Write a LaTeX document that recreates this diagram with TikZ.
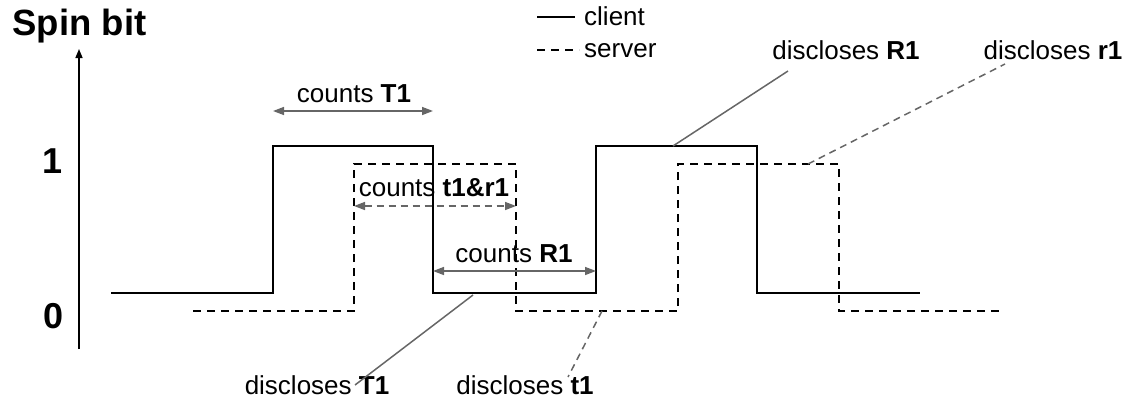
\documentclass[tikz,border=0pt]{standalone}
\usepackage{fontspec}
\setmainfont{Liberation Sans}
\usetikzlibrary{arrows.meta}
\definecolor{leadgray}{RGB}{102,102,102}
\begin{document}
\begin{tikzpicture}[x=1pt,y=-1pt,
  client/.style={line width=2pt, black},
  server/.style={line width=2pt, black, dash pattern=on 8pt off 6pt},
  lead/.style={line width=1.5pt, leadgray},
  leaddash/.style={lead, dash pattern=on 7pt off 5pt},
  span/.style={lead, {Triangle[length=11pt,width=8pt]}-{Triangle[length=11pt,width=8pt]}},
  txt/.style={font=\fontsize{26}{30}\selectfont, inner sep=0pt, anchor=base},
  big/.style={font=\fontsize{36.5}{42}\selectfont\bfseries, inner sep=0pt, anchor=base}]
\useasboundingbox (0,0) rectangle (1126,399);

% axis
\coordinate (axb) at (79,349);
\coordinate (axt) at (79,49);
\draw[line width=1.5pt, -{Triangle[length=9pt,width=7pt]}] (axb) -- (axt);
\node[big] (spin) at (79.5,35) {Spin bit};
\node[big, font=\fontsize{36}{42}\selectfont\bfseries] (one) at (53,173) {1};
\node[big, font=\fontsize{36}{42}\selectfont\bfseries] (zero) at (54,328) {0};

% client waveform
\coordinate (c0) at (111,293); \coordinate (c1) at (273,293);
\coordinate (c2) at (273,146); \coordinate (c3) at (433,146);
\coordinate (c4) at (433,293); \coordinate (c5) at (596,293);
\coordinate (c6) at (596,146); \coordinate (c7) at (757,146);
\coordinate (c8) at (757,293); \coordinate (c9) at (920,293);
\draw[client] (c0) -- (c1) -- (c2) -- (c3) -- (c4) -- (c5) -- (c6) -- (c7) -- (c8) -- (c9);

% server waveform
\coordinate (s0) at (193,311); \coordinate (s1) at (354,311);
\coordinate (s2) at (354,164); \coordinate (s3) at (516,164);
\coordinate (s4) at (516,311); \coordinate (s5) at (678,311);
\coordinate (s6) at (678,164); \coordinate (s7) at (839,164);
\coordinate (s8) at (839,311); \coordinate (s9) at (1001,311);
\draw[server] (s0) -- (s1) -- (s2) -- (s3) -- (s4) -- (s5) -- (s6) -- (s7) -- (s8) -- (s9);

% legend
\coordinate (lgc0) at (537,17); \coordinate (lgc1) at (575,17);
\coordinate (lgs0) at (537,50); \coordinate (lgs1) at (579,50);
\draw[client] (lgc0) -- (lgc1);
\draw[server, line width=1.5pt, dash pattern=on 8pt off 6pt] (lgs0) -- (lgs1);
\node[txt, anchor=base west] (lgclient) at (584,25) {client};
\node[txt, anchor=base west] (lgserver) at (584,57) {server};

% measured intervals
\coordinate (aT1a) at (273,111); \coordinate (aT1b) at (433,111);
\coordinate (at1a) at (354,206); \coordinate (at1b) at (516,206);
\coordinate (aR1a) at (433,271); \coordinate (aR1b) at (596,271);
\draw[span] (aT1a) -- (aT1b);
\draw[span, dash pattern=on 7pt off 5pt] (at1a) -- (at1b);
\draw[span] (aR1a) -- (aR1b);
\node[txt] (cT1) at (354,102) {counts \textbf{T1}};
\node[txt] (ct1) at (434,196) {counts \textbf{t1\&r1}};
\node[txt] (cR1) at (514,262) {counts \textbf{R1}};

% disclosure points
\node[txt] (dT1) at (317,394) {discloses \textbf{T1}};
\node[txt] (dt1) at (525,394) {discloses \textbf{t1}};
\node[txt] (dR1) at (846,59) {discloses \textbf{R1}};
\node[txt] (dr1) at (1053,59) {discloses \textbf{r1}};
\coordinate (pT1) at (473,295); \coordinate (qT1) at (355,385);
\coordinate (pt1) at (602,311); \coordinate (qt1) at (568,377);
\coordinate (pR1) at (673,146); \coordinate (qR1) at (788,71);
\coordinate (pr1) at (808,164); \coordinate (qr1) at (1005,64);
\draw[lead] (pT1) -- (qT1);
\draw[leaddash] (pt1) -- (qt1);
\draw[lead] (pR1) -- (qR1);
\draw[leaddash] (pr1) -- (qr1);
\end{tikzpicture}
\end{document}
